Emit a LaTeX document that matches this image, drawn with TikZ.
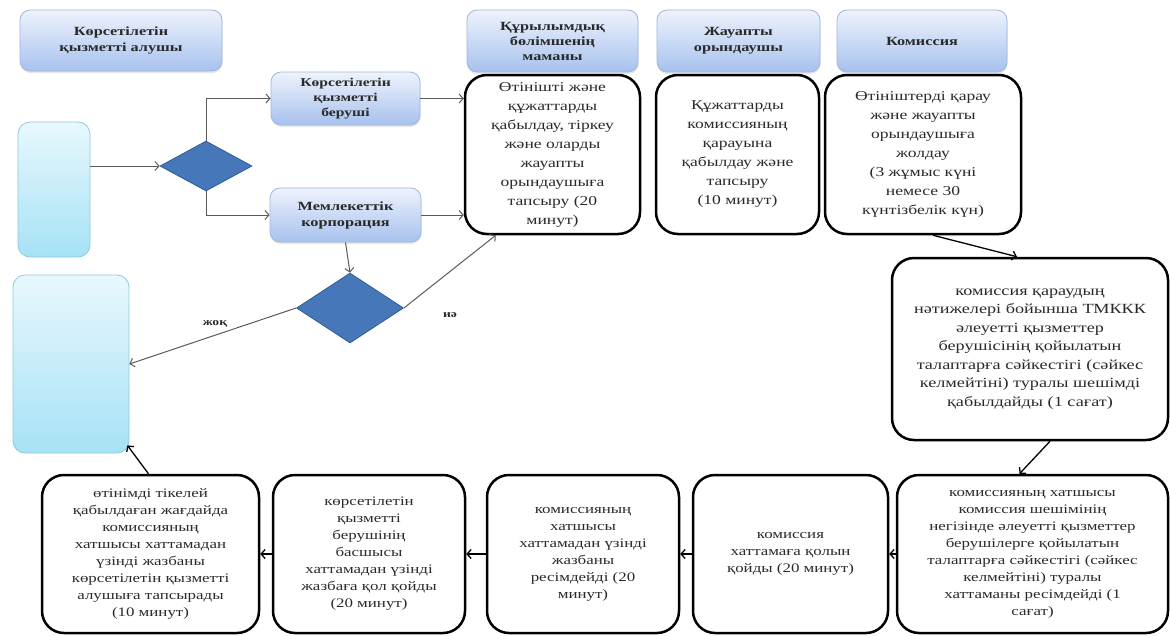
\documentclass[tikz,border=0pt]{standalone}
\usepackage{fontspec}
\setmainfont{Liberation Serif}
\newfontfamily\boxfont[FakeStretch=1.3]{Liberation Serif}
\usetikzlibrary{shapes.geometric,arrows.meta,shadows}
\definecolor{hdrtop}{HTML}{EEF3FC}
\definecolor{hdrbot}{HTML}{A7C1EE}
\definecolor{hdrline}{HTML}{9FB6DC}
\definecolor{cytop}{HTML}{E8F8FD}
\definecolor{cybot}{HTML}{A6E2F5}
\definecolor{cyline}{HTML}{8EC9DA}
\definecolor{dfill}{HTML}{4677B8}
\definecolor{dline}{HTML}{2F5D95}
\definecolor{txt}{HTML}{2A2A2A}
\definecolor{gline}{HTML}{5A5A5A}
\tikzset{
  hdr/.style={draw=hdrline, line width=0.8pt, rounded corners=10pt, top color=hdrtop, bottom color=hdrbot,
    drop shadow={opacity=0.2, shadow xshift=0.5pt, shadow yshift=-2pt},
    align=center, inner sep=0pt, font=\boxfont\bfseries\fontsize{12.5}{16}\selectfont, text=txt},
  cybox/.style={draw=cyline, line width=0.8pt, rounded corners=12pt, top color=cytop, bottom color=cybot, inner sep=0pt},
  dia/.style={diamond, draw=dline, line width=0.8pt, fill=dfill, inner sep=0pt},
  mainbox/.style={draw=black, line width=2.5pt, rounded corners=22pt, fill=white, align=center, inner sep=0pt,
    text=txt, font=\boxfont\fontsize{13.5}{19}\selectfont},
  lowbox/.style={mainbox, font=\boxfont\fontsize{13}{17}\selectfont},
  garrow/.style={draw=gline, line width=1pt, -{Straight Barb[length=4pt,width=9pt]}},
  barrow/.style={draw=black, line width=1.3pt, -{Straight Barb[length=4pt,width=9pt]}},
  lbl/.style={font=\boxfont\bfseries\fontsize{10.5}{12}\selectfont, text=txt, inner sep=0pt}
}
\begin{document}
\begin{tikzpicture}[x=1pt,y=-1pt]
\useasboundingbox (0,0) rectangle (1170,635);
% headers
\node[hdr, minimum width=202, minimum height=61] (h1) at (121,40.5) {Көрсетілетін\\қызметті алушы};
\node[hdr, minimum width=171, minimum height=62, font=\boxfont\bfseries\fontsize{12.5}{15}\selectfont] (h2) at (552.5,41) {Құрылымдық\\бөлімшенің\\маманы};
\node[hdr, minimum width=163, minimum height=62] (h3) at (738.5,41) {Жауапты\\орындаушы};
\node[hdr, minimum width=170, minimum height=62] (h4) at (922,41) {Комиссия};
\node[hdr, minimum width=149, minimum height=53, font=\boxfont\bfseries\fontsize{12}{15}\selectfont] (kb) at (345.5,98.5) {Көрсетілетін\\қызметті\\беруші};
\node[hdr, minimum width=151, minimum height=54] (mk) at (345.5,215) {Мемлекеттік\\корпорация};
% cyan boxes
\node[cybox, minimum width=72, minimum height=135] (c1) at (54,189.5) {};
\node[cybox, minimum width=116, minimum height=178] (c2) at (71,364) {};
% diamonds
\node[dia, minimum width=92, minimum height=50] (d1) at (206,166) {};
\node[dia, minimum width=107, minimum height=70] (d2) at (350,308) {};
% main boxes
\node[mainbox, minimum width=175, minimum height=159] (b1) at (552.5,154.5)
  {Өтінішті және\\құжаттарды\\қабылдау, тіркеу\\және оларды\\жауапты\\орындаушыға\\тапсыру (20\\минут)};
\node[mainbox, minimum width=163, minimum height=159] (b2) at (737.5,154.5)
  {Құжаттарды\\комиссияның\\қарауына\\қабылдау және\\тапсыру\\(10 минут)};
\node[mainbox, minimum width=196, minimum height=159] (b3) at (923,154.5)
  {Өтініштерді қарау\\және жауапты\\орындаушыға\\жолдау\\(3 жұмыс күні\\немесе 30\\күнтізбелік күн)};
\node[mainbox, font=\boxfont\fontsize{14}{18.5}\selectfont, minimum width=276, minimum height=182] (b4) at (1030,349)
  {комиссия қараудың\\нәтижелері бойынша ТМККК\\әлеуетті қызметтер\\берушісінің қойылатын\\талаптарға сәйкестігі (сәйкес\\келмейтіні) туралы шешімді\\қабылдайды (1 сағат)};
\node[lowbox, minimum width=271, minimum height=158] (b5) at (1032.5,554)
  {комиссияның хатшысы\\комиссия шешімінің\\негізінде әлеуетті қызметтер\\берушілерге қойылатын\\талаптарға сәйкестігі (сәйкес\\келмейтіні) туралы\\хаттаманы ресімдейді (1\\сағат)};
\node[lowbox, minimum width=195, minimum height=158] (b6) at (790.5,554)
  {комиссия\\хаттамаға қолын\\қойды (20 минут)};
\node[lowbox, minimum width=192, minimum height=158] (b7) at (583,554)
  {комиссияның\\хатшысы\\хаттамадан үзінді\\жазбаны\\ресімдейді (20\\минут)};
\node[lowbox, minimum width=192, minimum height=158] (b8) at (369,554)
  {көрсетілетін\\қызметті\\берушінің\\басшысы\\хаттамадан үзінді\\жазбаға қол қойды\\(20 минут)};
\node[lowbox, minimum width=217, minimum height=158] (b9) at (150.5,554)
  {өтінімді тікелей\\қабылдаған жағдайда\\комиссияның\\хатшысы хаттамадан\\үзінді жазбаны\\көрсетілетін қызметті\\алушыға тапсырады\\(10 минут)};
% labels
\node[lbl] (no) at (215,324) {жоқ};
\node[lbl] (yes) at (450,315) {иә};
% connectors
\draw[garrow] (d1.west -| c1.east) -- (d1.west);
\draw[garrow] (d1.north) |- (kb.west);
\draw[garrow] (d1.south) |- (mk.west);
\draw[garrow] (kb.east) -- (kb.east -| b1.west);
\draw[garrow] (mk.east) -- (mk.east -| b1.west);
\draw[garrow] (mk.south) -- (d2.north);
\draw[garrow] (d2.east) -- ([xshift=32pt]b1.south west);
\draw[garrow] (d2.west) -- (c2.east);
\draw[barrow] ([xshift=10pt]b3.south) -- ([xshift=-13pt]b4.north);
\draw[barrow] ([xshift=20pt]b4.south) -- ([xshift=-13pt]b5.north);
\draw[barrow] (b5.west) -- (b6.east);
\draw[barrow] (b6.west) -- (b7.east);
\draw[barrow] (b7.west) -- (b8.east);
\draw[barrow] (b8.west) -- (b9.east);
\draw[barrow] ([xshift=-2pt]b9.north) -- ([xshift=-2pt,yshift=8pt]c2.south east);
\end{tikzpicture}
\end{document}
